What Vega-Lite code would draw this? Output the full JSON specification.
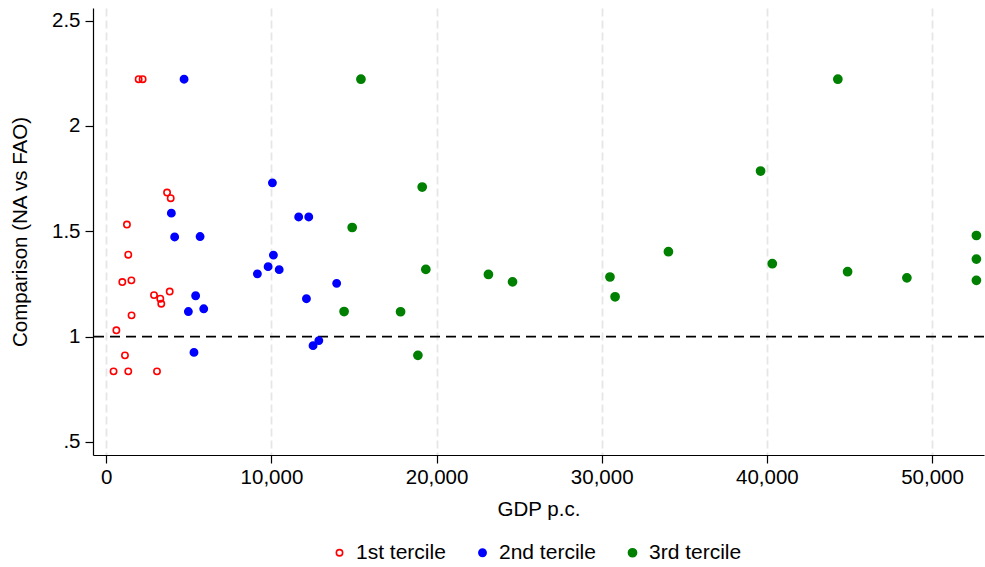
{
  "$schema": "https://vega.github.io/schema/vega-lite/v6.json",
  "width": 891,
  "height": 447,
  "autosize": {"type": "none"},
  "padding": {"left": 93, "top": 8, "right": 1, "bottom": 112},
  "background": "white",
  "config": {
    "view": {"stroke": null},
    "font": "Liberation Sans",
    "axis": {
      "domainColor": "#000000",
      "domainWidth": 1.2,
      "tickColor": "#000000",
      "tickWidth": 1.2,
      "tickSize": 8,
      "labelColor": "#000000",
      "labelFont": "Liberation Sans",
      "labelFontSize": 20.5,
      "titleColor": "#000000",
      "titleFont": "Liberation Sans",
      "titleFontSize": 20.5,
      "titleFontWeight": "normal",
      "gridColor": "#e6e6e6",
      "gridWidth": 1.8,
      "gridDash": [8, 4],
      "labelOverlap": false,
      "labelFlush": false
    },
    "legend": {
      "labelFont": "Liberation Sans",
      "labelFontSize": 21,
      "labelColor": "#000000"
    }
  },
  "layer": [
    {
      "data": {"values": [{"a": 1}]},
      "mark": {"type": "rule", "color": "#000000", "strokeWidth": 1.6, "strokeDash": [10, 6]},
      "encoding": {
        "y": {"datum": 1, "type": "quantitative", "scale": {"domain": [0.438, 2.56], "nice": false, "zero": false}}
      }
    },
    {
      "data": {
        "values": [
          {"gdp": 1960, "cmp": 2.222, "group": "1st tercile"},
          {"gdp": 2200, "cmp": 2.222, "group": "1st tercile"},
          {"gdp": 3680, "cmp": 1.684, "group": "1st tercile"},
          {"gdp": 3900, "cmp": 1.657, "group": "1st tercile"},
          {"gdp": 1250, "cmp": 1.532, "group": "1st tercile"},
          {"gdp": 1330, "cmp": 1.389, "group": "1st tercile"},
          {"gdp": 970, "cmp": 1.259, "group": "1st tercile"},
          {"gdp": 1520, "cmp": 1.267, "group": "1st tercile"},
          {"gdp": 3840, "cmp": 1.214, "group": "1st tercile"},
          {"gdp": 2890, "cmp": 1.197, "group": "1st tercile"},
          {"gdp": 3270, "cmp": 1.18, "group": "1st tercile"},
          {"gdp": 3330, "cmp": 1.156, "group": "1st tercile"},
          {"gdp": 1530, "cmp": 1.101, "group": "1st tercile"},
          {"gdp": 610, "cmp": 1.03, "group": "1st tercile"},
          {"gdp": 1130, "cmp": 0.911, "group": "1st tercile"},
          {"gdp": 440, "cmp": 0.835, "group": "1st tercile"},
          {"gdp": 1330, "cmp": 0.835, "group": "1st tercile"},
          {"gdp": 3070, "cmp": 0.835, "group": "1st tercile"},
          {"gdp": 4710, "cmp": 2.222, "group": "2nd tercile"},
          {"gdp": 10060, "cmp": 1.73, "group": "2nd tercile"},
          {"gdp": 3940, "cmp": 1.586, "group": "2nd tercile"},
          {"gdp": 11650, "cmp": 1.568, "group": "2nd tercile"},
          {"gdp": 12260, "cmp": 1.568, "group": "2nd tercile"},
          {"gdp": 4140, "cmp": 1.473, "group": "2nd tercile"},
          {"gdp": 5680, "cmp": 1.475, "group": "2nd tercile"},
          {"gdp": 10120, "cmp": 1.387, "group": "2nd tercile"},
          {"gdp": 9800, "cmp": 1.332, "group": "2nd tercile"},
          {"gdp": 10470, "cmp": 1.318, "group": "2nd tercile"},
          {"gdp": 9150, "cmp": 1.298, "group": "2nd tercile"},
          {"gdp": 13950, "cmp": 1.253, "group": "2nd tercile"},
          {"gdp": 5410, "cmp": 1.194, "group": "2nd tercile"},
          {"gdp": 12120, "cmp": 1.18, "group": "2nd tercile"},
          {"gdp": 4970, "cmp": 1.119, "group": "2nd tercile"},
          {"gdp": 5900, "cmp": 1.132, "group": "2nd tercile"},
          {"gdp": 5310, "cmp": 0.925, "group": "2nd tercile"},
          {"gdp": 12520, "cmp": 0.957, "group": "2nd tercile"},
          {"gdp": 12870, "cmp": 0.981, "group": "2nd tercile"},
          {"gdp": 15420, "cmp": 2.222, "group": "3rd tercile"},
          {"gdp": 19130, "cmp": 1.71, "group": "3rd tercile"},
          {"gdp": 14890, "cmp": 1.518, "group": "3rd tercile"},
          {"gdp": 19350, "cmp": 1.319, "group": "3rd tercile"},
          {"gdp": 23140, "cmp": 1.295, "group": "3rd tercile"},
          {"gdp": 24600, "cmp": 1.26, "group": "3rd tercile"},
          {"gdp": 14400, "cmp": 1.119, "group": "3rd tercile"},
          {"gdp": 17820, "cmp": 1.118, "group": "3rd tercile"},
          {"gdp": 18870, "cmp": 0.911, "group": "3rd tercile"},
          {"gdp": 30500, "cmp": 1.283, "group": "3rd tercile"},
          {"gdp": 30810, "cmp": 1.189, "group": "3rd tercile"},
          {"gdp": 34040, "cmp": 1.403, "group": "3rd tercile"},
          {"gdp": 39620, "cmp": 1.786, "group": "3rd tercile"},
          {"gdp": 40330, "cmp": 1.346, "group": "3rd tercile"},
          {"gdp": 44300, "cmp": 2.222, "group": "3rd tercile"},
          {"gdp": 44890, "cmp": 1.308, "group": "3rd tercile"},
          {"gdp": 48480, "cmp": 1.279, "group": "3rd tercile"},
          {"gdp": 52690, "cmp": 1.48, "group": "3rd tercile"},
          {"gdp": 52690, "cmp": 1.368, "group": "3rd tercile"},
          {"gdp": 52690, "cmp": 1.267, "group": "3rd tercile"}
        ]
      },
      "mark": {"type": "point", "shape": "circle", "strokeWidth": 1.6, "opacity": 1},
      "encoding": {
        "x": {
          "field": "gdp", "type": "quantitative", "title": "GDP p.c.",
          "scale": {"domain": [-805, 53150], "nice": false, "zero": false},
          "axis": {"values": [0, 10000, 20000, 30000, 40000, 50000], "format": ",.0f", "labelPadding": 4, "titlePadding": 12}
        },
        "y": {
          "field": "cmp", "type": "quantitative", "title": "Comparison (NA vs FAO)",
          "scale": {"domain": [0.438, 2.56], "nice": false, "zero": false},
          "axis": {"values": [0.5, 1, 1.5, 2, 2.5], "labelExpr": "datum.value == 0.5 ? '.5' : toString(datum.value)", "labelPadding": 5, "titlePadding": 21}
        },
        "stroke": {
          "field": "group", "type": "nominal",
          "scale": {"domain": ["1st tercile", "2nd tercile", "3rd tercile"], "range": ["#ff0000", "#0000ff", "#008000"]},
          "legend": {"orient": "none", "legendX": 236, "legendY": 534, "direction": "horizontal", "title": null, "labelOffset": 6, "columnPadding": 26, "padding": 0, "symbolStrokeWidth": 1.6}
        },
        "fill": {
          "field": "group", "type": "nominal",
          "scale": {"domain": ["1st tercile", "2nd tercile", "3rd tercile"], "range": ["transparent", "#0000ff", "#008000"]},
          "legend": {"orient": "none", "legendX": 236, "legendY": 534, "direction": "horizontal", "title": null, "labelOffset": 6, "columnPadding": 26, "padding": 0, "symbolStrokeWidth": 1.6}
        },
        "size": {
          "field": "group", "type": "nominal",
          "scale": {"domain": ["1st tercile", "2nd tercile", "3rd tercile"], "range": [40, 66, 66]},
          "legend": {"orient": "none", "legendX": 236, "legendY": 534, "direction": "horizontal", "title": null, "labelOffset": 6, "columnPadding": 26, "padding": 0, "symbolStrokeWidth": 1.6}
        }
      }
    }
  ]
}
